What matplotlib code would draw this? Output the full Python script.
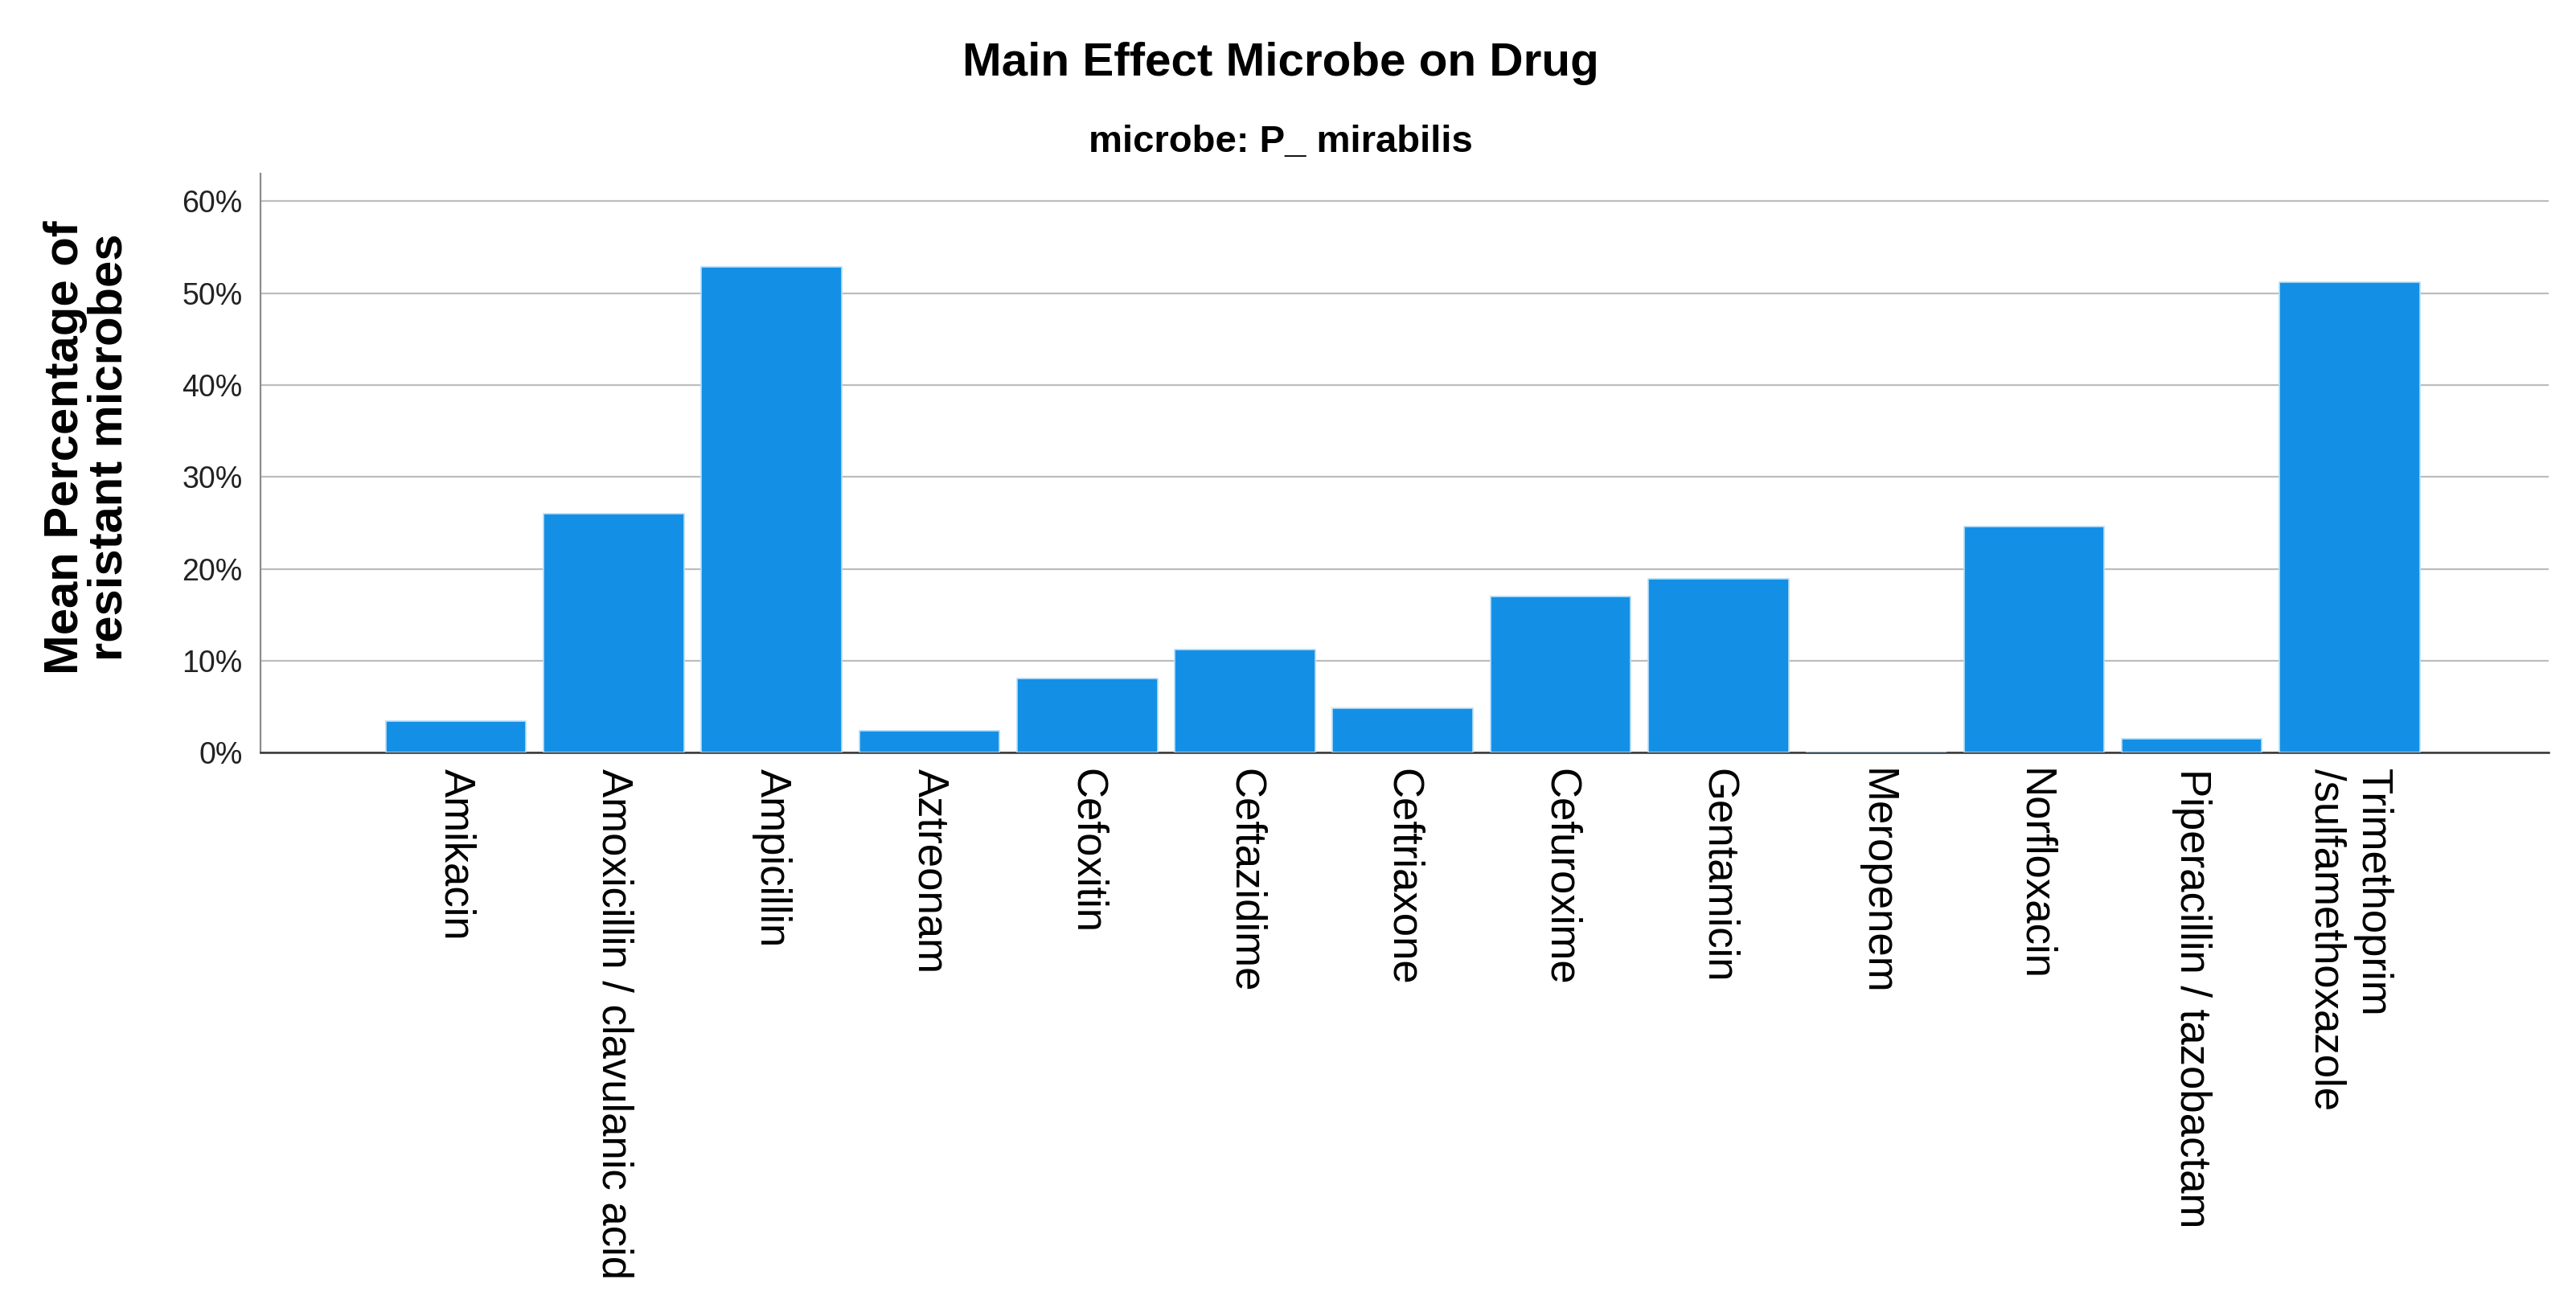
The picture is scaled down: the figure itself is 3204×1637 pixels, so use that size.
import matplotlib.pyplot as plt
import numpy as np

drugs = ['Amikacin', 'Amoxicillin / clavulanic acid', 'Ampicillin', 'Aztreonam',
         'Cefoxitin', 'Ceftazidime', 'Ceftriaxone', 'Cefuroxime', 'Gentamicin',
         'Meropenem', 'Norfloxacin', 'Piperacillin / tazobactam',
         'Trimethoprim\n/sulfamethoxazole']
resist_pct = [3.4, 26.0, 52.9, 2.4, 8.1, 11.2, 4.8, 17.0, 18.9, 0.0, 24.6, 1.5, 51.2]
yticks = [0, 10, 20, 30, 40, 50, 60]

plt.rcParams['font.family'] = ['Liberation Sans', 'DejaVu Sans']

fig = plt.figure(figsize=(32.05, 16.37), dpi=100)
ax = fig.add_axes([0.101, 0.428, 0.888, 0.44])

x = np.arange(len(drugs))
ax.bar(x, resist_pct, width=0.89, color='#1390e6', edgecolor='#b9def8',
       linewidth=1.2, zorder=3)

ax.set_xlim(-1.24, len(drugs) - 1 + 1.26)
ax.set_ylim(0, 63)
ax.set_yticks(yticks)
ax.set_yticklabels(['%d%%' % v for v in yticks], fontsize=27, color='#222222')
ax.yaxis.grid(True, color='#bdbdbd', linewidth=1.6, zorder=0)
ax.set_axisbelow(True)

ax.set_xticks(x)
ax.set_xticklabels(drugs, rotation=-90, fontsize=38, ha='center', va='top',
                   multialignment='left')
ax.tick_params(axis='both', length=0)
ax.tick_params(axis='x', pad=14)
ax.tick_params(axis='y', pad=16)

for s in ['top', 'right']:
    ax.spines[s].set_visible(False)
ax.spines['left'].set_color('#8c8c8c')
ax.spines['left'].set_linewidth(1.6)
ax.spines['bottom'].set_color('#333333')
ax.spines['bottom'].set_linewidth(1.8)

fig.text(0.497, 0.952, 'Main Effect Microbe on Drug', ha='center', va='center',
         fontsize=42, fontweight='bold')
fig.text(0.497, 0.892, 'microbe: P_ mirabilis', ha='center', va='center',
         fontsize=34, fontweight='bold')
fig.text(0.034, 0.66, 'Mean Percentage of\nresistant microbes', rotation=90,
         ha='center', va='center', multialignment='center', fontsize=43,
         fontweight='bold', linespacing=1.0)

fig.savefig('out.png', dpi=100)
